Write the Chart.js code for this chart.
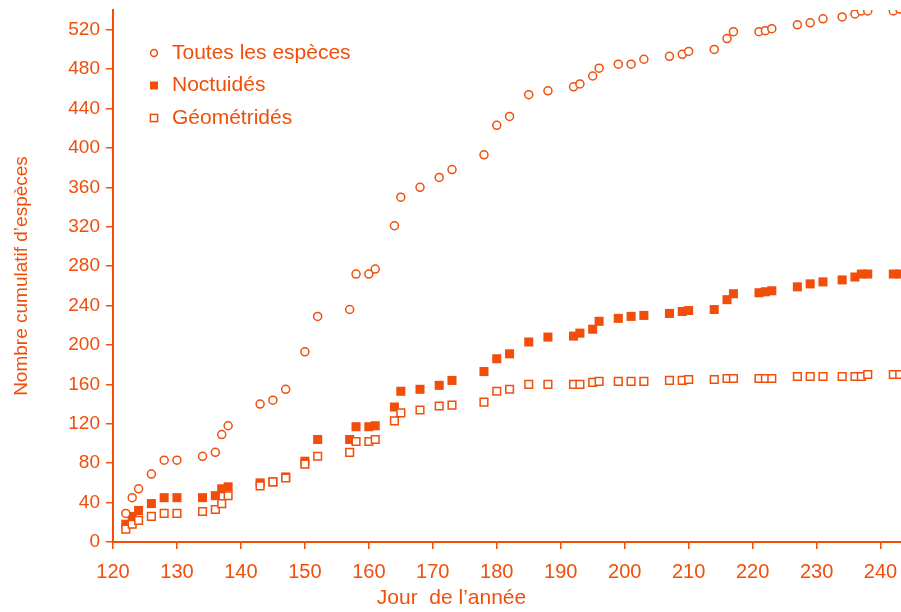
<!DOCTYPE html>
<html lang="fr">
<head>
<meta charset="utf-8">
<title>Nombre cumulatif d’espèces</title>
<script src="https://cdn.jsdelivr.net/npm/chart.js@4.4.1/dist/chart.umd.min.js"></script>
<style>
    html, body { margin: 0; padding: 0; background: #fff; }
    .chart-box { position: relative; width: 901px; height: 612px; }
</style>
</head>
<body>
<div class="chart-box"><canvas id="especesChart"></canvas></div>
<script>
// Jours de relevé et nombres cumulés d'espèces
var days = [122, 123, 124, 126, 128, 130, 134, 136, 137, 138, 143, 145, 147, 150, 152, 157, 158, 160, 161, 164,
            165, 168, 171, 173, 178, 180, 182, 185, 188, 192, 193, 195, 196, 199, 201, 203, 207, 209, 210, 214,
            216, 217, 221, 222, 223, 227, 229, 231, 234, 236, 237, 238, 242, 243];

var toutesEspeces = [29, 45, 54, 69, 83, 83, 87, 91, 109, 118, 140, 144, 155, 193, 229, 236, 272, 272, 277, 321,
                     350, 360, 370, 378, 393, 423, 432, 454, 458, 462, 465, 473, 481, 485, 485, 490, 493, 495, 498, 500,
                     511, 518, 518, 519, 521, 525, 527, 531, 533, 536, 539, 539, 539, 541];

var noctuides = [18, 26, 32, 39, 45, 45, 45, 47, 54, 56, 60, 61, 66, 82, 104, 104, 117, 117, 118, 137,
                 153, 155, 159, 164, 173, 186, 191, 203, 208, 209, 212, 216, 224, 227, 229, 230, 232, 234, 235, 236,
                 246, 252, 253, 254, 255, 259, 262, 264, 266, 269, 272, 272, 272, 272];

var geometrides = [13, 18, 22, 26, 29, 29, 31, 33, 39, 47, 57, 61, 65, 79, 87, 91, 102, 102, 104, 123,
                   131, 134, 138, 139, 142, 153, 155, 160, 160, 160, 160, 162, 163, 163, 163, 163, 164, 164, 165, 165,
                   166, 166, 166, 166, 166, 168, 168, 168, 168, 168, 168, 170, 170, 170];

var xTicks = [120, 130, 140, 150, 160, 170, 180, 190, 200, 210, 220, 230, 240];
var yTicks = [0, 40, 80, 120, 160, 200, 240, 280, 320, 360, 400, 440, 480, 520];

var orange = '#f04e0a';
var fontFamily = "'Liberation Sans', Arial, sans-serif";

function toPoints(values) {
    return days.map(function(day, i) {
        return { x: day, y: values[i] };
    });
}

// legende dessinee dans la zone du graphique, en haut a gauche
var legendeEspeces = {
    id: 'legendeEspeces',
    afterDraw: function(chart) {
        var ctx = chart.ctx;
        var area = chart.chartArea;
        var x = area.left + 41;
        var y = area.top + 43;
        ctx.save();
        ctx.font = '21px ' + fontFamily;
        ctx.textBaseline = 'middle';
        ctx.lineWidth = 1.5;
        chart.data.datasets.forEach(function(ds, i) {
            var cy = y + i * 32.5;
            ctx.fillStyle = orange;
            ctx.strokeStyle = orange;
            if (ds.pointStyle === 'circle') {
                ctx.beginPath();
                ctx.arc(x, cy, 3.4, 0, Math.PI * 2);
                ctx.stroke();
            } else if (ds.borderWidth > 0) {
                ctx.strokeRect(x - 3.6, cy - 3.6, 7.2, 7.2);
            } else {
                ctx.fillRect(x - 4, cy - 4, 8, 8);
            }
            ctx.fillText(ds.label, x + 18, cy);
        });
        ctx.restore();
    }
};

// titre de l'axe des x, centre sur la page
var titreAxeX = {
    id: 'titreAxeX',
    afterDraw: function(chart) {
        var ctx = chart.ctx;
        ctx.save();
        ctx.font = '21px ' + fontFamily;
        ctx.fillStyle = orange;
        ctx.textAlign = 'center';
        ctx.textBaseline = 'middle';
        ctx.fillText('Jour  de l’année', chart.width / 2 + 1, 598);
        ctx.restore();
    }
};

document.addEventListener('DOMContentLoaded', function() {
    var ctx = document.getElementById('especesChart').getContext('2d');

    new Chart(ctx, {
        type: 'scatter',
        data: {
            datasets: [{
                label: 'Toutes les espèces',
                data: toPoints(toutesEspeces),
                pointStyle: 'circle',
                pointRadius: 4,
                borderWidth: 1.5,
                borderColor: orange,
                backgroundColor: '#ffffff',
                order: 0
            }, {
                label: 'Noctuidés',
                data: toPoints(noctuides),
                pointStyle: 'rect',
                pointRadius: 6.4,
                borderWidth: 0,
                borderColor: orange,
                backgroundColor: orange,
                order: 2
            }, {
                label: 'Géométridés',
                data: toPoints(geometrides),
                pointStyle: 'rect',
                pointRadius: 5.4,
                borderWidth: 1.5,
                borderColor: orange,
                backgroundColor: '#ffffff',
                order: 1
            }]
        },
        options: {
            responsive: true,
            maintainAspectRatio: false,
            animation: false,
            layout: {
                autoPadding: false,
                padding: { top: 10, right: 0, bottom: 0, left: 0 }
            },
            plugins: {
                legend: { display: false },
                tooltip: { enabled: false }
            },
            scales: {
                x: {
                    type: 'linear',
                    min: 120,
                    max: 243.2,
                    afterBuildTicks: function(scale) {
                        scale.ticks = xTicks.map(function(v) { return { value: v }; });
                    },
                    afterFit: function(scale) {
                        scale.height = 70;
                        // l'axe va jusqu'au bord droit
                        scale.paddingLeft = 0;
                        scale.paddingRight = 0;
                    },
                    grid: { drawOnChartArea: false, drawTicks: true, tickLength: 7, color: orange, lineWidth: 1.5 },
                    border: { color: orange, width: 2 },
                    ticks: {
                        color: orange,
                        padding: 11,
                        maxRotation: 0,
                        autoSkip: false,
                        font: { family: fontFamily, size: 20 }
                    }
                },
                y: {
                    min: 0,
                    max: 540,
                    afterBuildTicks: function(scale) {
                        scale.ticks = yTicks.map(function(v) { return { value: v }; });
                    },
                    afterFit: function(scale) {
                        scale.width = 113;
                        scale.paddingTop = 0;
                        scale.paddingBottom = 0;
                    },
                    grid: { drawOnChartArea: false, drawTicks: true, tickLength: 7, color: orange, lineWidth: 1.5 },
                    border: { color: orange, width: 2 },
                    ticks: {
                        color: orange,
                        padding: 6,
                        autoSkip: false,
                        font: { family: fontFamily, size: 19 }
                    },
                    title: {
                        display: true,
                        text: 'Nombre cumulatif d’espèces',
                        color: orange,
                        padding: { top: 10, bottom: 0 },
                        font: { family: fontFamily, size: 19 }
                    }
                }
            }
        },
        plugins: [legendeEspeces, titreAxeX]
    });
});
</script>
</body>
</html>
